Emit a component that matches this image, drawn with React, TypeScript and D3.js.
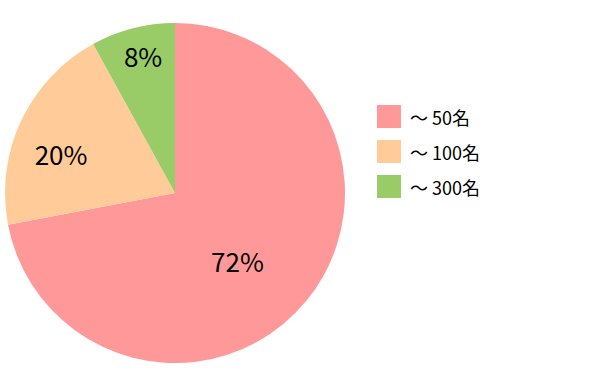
import React from "react";
import * as d3 from "d3";

const categories = ["～ 50名", "～ 100名", "～ 300名"];
const values = [72, 20, 8];
const labels = ["72%", "20%", "8%"];
const colors = ["#FF9999", "#FFCC99", "#99CC66"];

const W = 600;
const H = 386;
const cx = 175;
const cy = 193;
const R = 170;
// label radius factors (fraction of R) and angle nudges (radians) per slice
const labelR = [0.543, 0.71, 0.83];
const labelNudge = [0.136, -0.103, 0.023];

export default function App() {
  const pie = d3.pie<number>().sort(null).value((d) => d);
  const arcs = pie(values);
  const arc = d3.arc<d3.PieArcDatum<number>>().innerRadius(0).outerRadius(R);
  const font = "'Noto Sans CJK JP', 'Noto Sans', sans-serif";

  return (
    <svg
      width={W}
      height={H}
      style={{ position: "absolute", left: 0, top: 0, background: "#fff" }}
    >
      <g transform={`translate(${cx},${cy})`}>
        {arcs.map((a, i) => (
          <path key={i} d={arc(a) || ""} fill={colors[i]} />
        ))}
        {arcs.map((a, i) => {
          const mid = (a.startAngle + a.endAngle) / 2 + labelNudge[i];
          const r = R * labelR[i];
          const x = Math.sin(mid) * r;
          const y = -Math.cos(mid) * r;
          return (
            <text
              key={i}
              x={x}
              y={y}
              textAnchor="middle"
              dominantBaseline="central"
              fontFamily={font}
              fontSize={26}
              fill="#000"
            >
              {labels[i]}
            </text>
          );
        })}
      </g>
      <g transform="translate(377,105)">
        {categories.map((c, i) => (
          <g key={i} transform={`translate(0,${i * 35})`}>
            <rect width={24} height={23} fill={colors[i]} />
            <text
              x={33}
              y={12}
              dominantBaseline="central"
              fontFamily={font}
              fontSize={18}
              fill="#000"
            >
              {c}
            </text>
          </g>
        ))}
      </g>
    </svg>
  );
}
